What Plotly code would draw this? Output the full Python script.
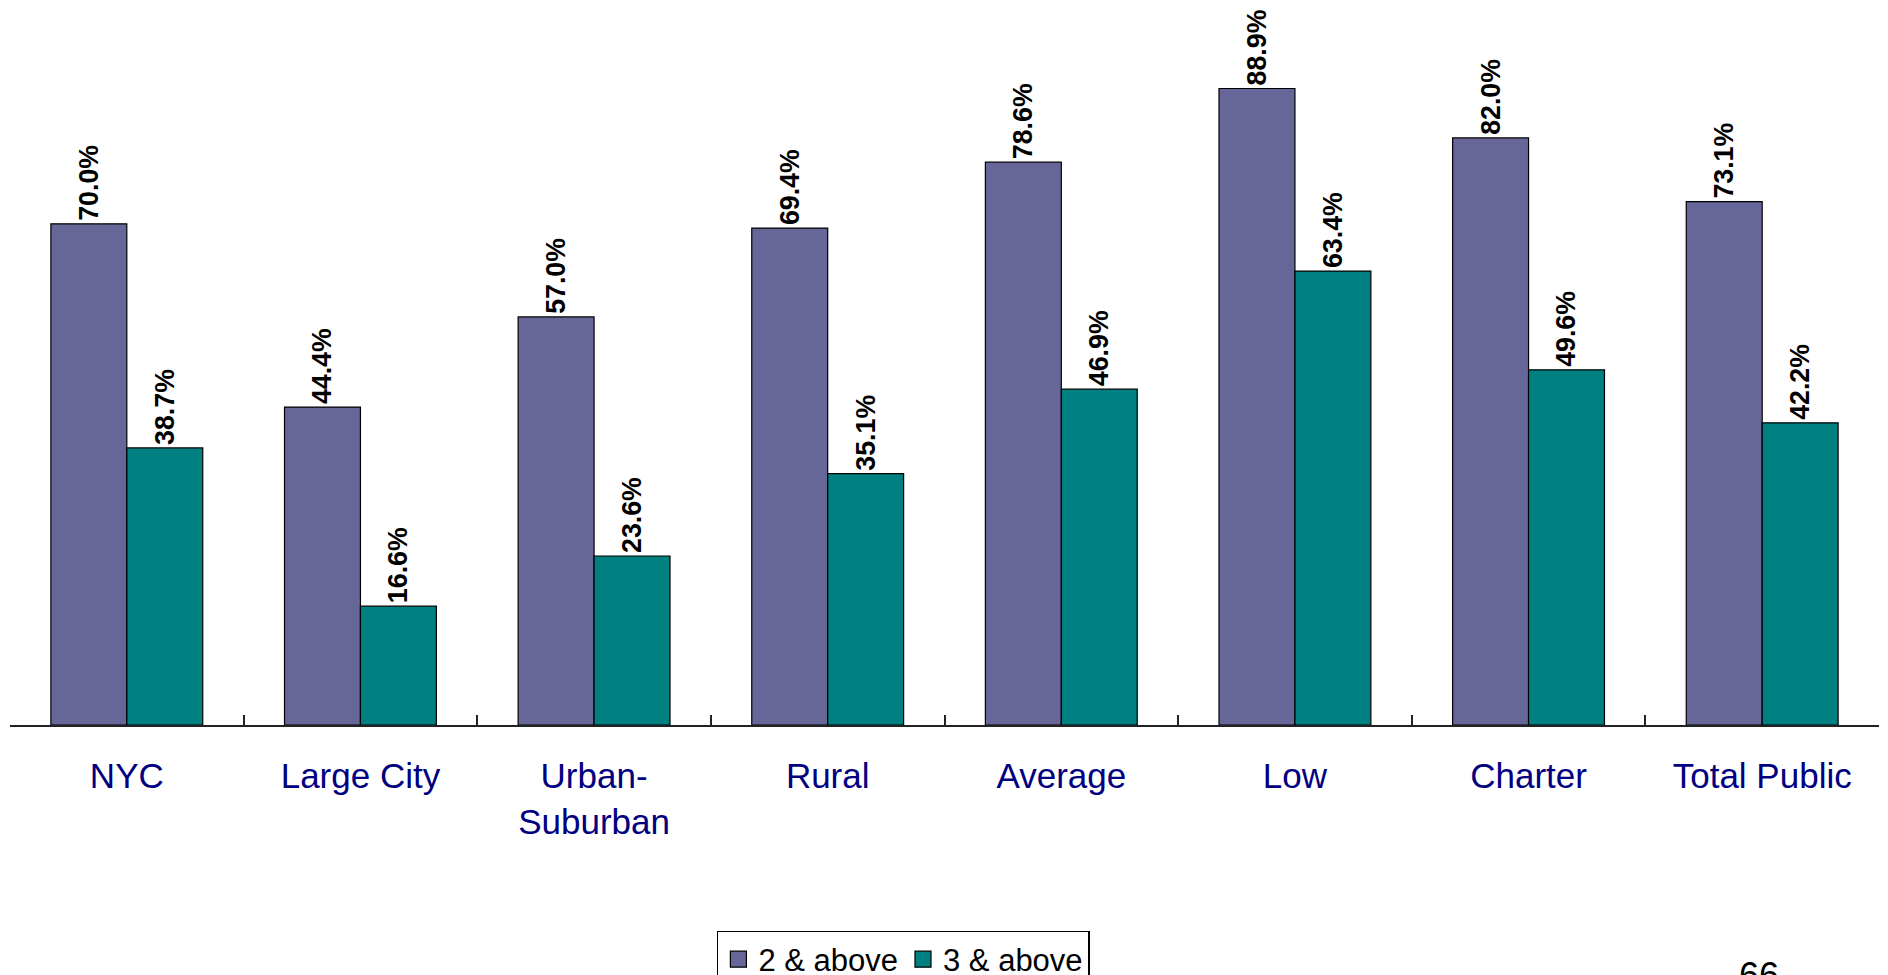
import plotly.graph_objects as go

categories = ["NYC", "Large City", "Urban-<br>Suburban", "Rural", "Average", "Low", "Charter", "Total Public"]
series_names = ["2 & above", "3 & above"]
two_above = [70.0, 44.4, 57.0, 69.4, 78.6, 88.9, 82.0, 73.1]
three_above = [38.7, 16.6, 23.6, 35.1, 46.9, 63.4, 49.6, 42.2]
colors = ["#666699", "#008080"]

FONT = "Arial, Liberation Sans, sans-serif"

fig = go.Figure()
for name, vals, col in zip(series_names, [two_above, three_above], colors):
    fig.add_trace(go.Bar(
        x=categories, y=vals, name=name, showlegend=False,
        marker=dict(color=col, line=dict(color="black", width=1.2)),
        texttemplate="%{y:.1f}%", textposition="outside", textangle=-90,
        textfont=dict(family=FONT, size=27, color="black", weight="bold"),
        cliponaxis=False,
    ))
# legend entries with larger square symbols
for name, col in zip(series_names, colors):
    fig.add_trace(go.Scatter(
        x=[None], y=[None], mode="markers", name=name,
        marker=dict(symbol="square", size=20, color=col, line=dict(color="black", width=1.2)),
    ))

fig.add_annotation(text="66", xref="paper", yref="paper", x=0.936, y=-0.318,
                   xanchor="center", yanchor="top", showarrow=False,
                   font=dict(family=FONT, size=36, color="black"))

# page body has an 8px margin, so the figure is offset by 8px
fig.update_layout(
    width=1888, height=975,
    margin=dict(l=2, r=17, t=1, b=258, autoexpand=False),
    paper_bgcolor="white", plot_bgcolor="white",
    barmode="group", bargap=0.35, bargroupgap=0,
    font=dict(family=FONT),
    showlegend=True,
    legend=dict(orientation="h", x=0.478, xanchor="center", y=-0.2877, yanchor="top",
                bordercolor="black", borderwidth=1.5, bgcolor="white",
                font=dict(family=FONT, size=31, color="black"),
                itemsizing="trace", traceorder="normal", itemwidth=30),
    xaxis=dict(showline=True, linecolor="#222222", linewidth=2, automargin=False,
               ticks="inside", tickson="boundaries", ticklen=10, tickcolor="#222222", tickwidth=2,
               tickfont=dict(family=FONT, size=35, color="#000080"),
               ticklabelstandoff=19, showgrid=False),
    yaxis=dict(visible=False, range=[0, 100], showgrid=False, zeroline=False, automargin=False),
)

fig.write_html("out.html")
